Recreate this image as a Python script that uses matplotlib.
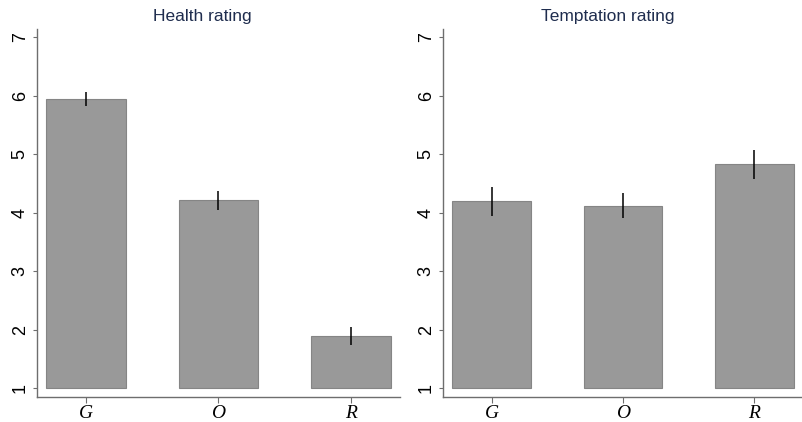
import matplotlib.pyplot as plt

categorias = ["G", "O", "R"]

salud_media = [5.95, 4.21, 1.89]
salud_inf = [5.82, 4.04, 1.74]
salud_sup = [6.07, 4.37, 2.04]

tent_media = [4.19, 4.12, 4.83]
tent_inf = [3.95, 3.91, 4.57]
tent_sup = [4.43, 4.33, 5.07]

titulos = ["Health rating", "Temptation rating"]
yticks = [1, 2, 3, 4, 5, 6, 7]

W, H = 803, 422
GRIS_EJE = "#6e6e6e"
AZUL_TITULO = "#1f2d4e"


def panel(ax, medias, inf, sup):
    x = list(range(len(categorias)))
    alturas = [m - 1 for m in medias]
    ax.bar(x, alturas, bottom=1, width=0.6, color="#999999",
           edgecolor="#858585", linewidth=0.8, zorder=2)
    ax.vlines(x, inf, sup, color="black", linewidth=1.1, zorder=3)

    ax.set_xlim(-0.37, 2.37)
    ax.set_ylim(0.846, 7.14)
    ax.set_xticks(x)
    ax.set_xticklabels(categorias, fontfamily="Liberation Serif",
                       fontstyle="italic", fontsize=14)
    ax.set_yticks(yticks)
    ax.set_yticklabels([str(t) for t in yticks], rotation=90,
                       va="center", fontsize=13,
                       fontfamily="Liberation Sans")
    for lado in ("top", "right"):
        ax.spines[lado].set_visible(False)
    for lado in ("left", "bottom"):
        ax.spines[lado].set_color(GRIS_EJE)
        ax.spines[lado].set_linewidth(1.0)
    ax.tick_params(axis="both", color=GRIS_EJE, width=0.8)
    ax.tick_params(axis="y", length=3, pad=3)
    ax.tick_params(axis="x", length=4, pad=2)


fig = plt.figure(figsize=(W / 100, H / 100), dpi=100)

ax1 = fig.add_axes([37 / W, 1 - 397 / H, 363 / W, 368 / H])
ax2 = fig.add_axes([443 / W, 1 - 397 / H, 360 / W, 368 / H])

panel(ax1, salud_media, salud_inf, salud_sup)
panel(ax2, tent_media, tent_inf, tent_sup)

fig.text(202 / W, 1 - 16 / H, titulos[0], ha="center", va="center",
         fontsize=12.5, color=AZUL_TITULO, fontfamily="Liberation Sans")
fig.text(608 / W, 1 - 16 / H, titulos[1], ha="center", va="center",
         fontsize=12.5, color=AZUL_TITULO, fontfamily="Liberation Sans")

fig.savefig("out.png", dpi=100)
